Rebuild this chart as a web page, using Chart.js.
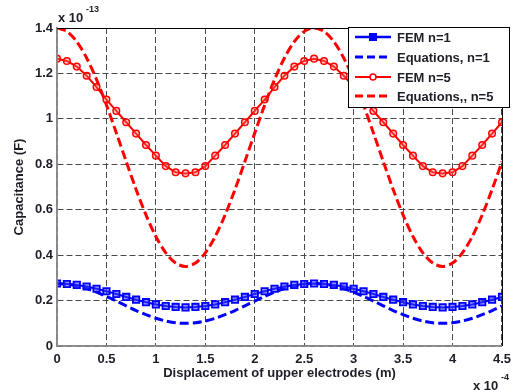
<!DOCTYPE html>
<html>
<head>
<meta charset="utf-8">
<script src="https://cdn.jsdelivr.net/npm/chart.js@4"></script>
<style>
  html, body { margin: 0; padding: 0; background: #fff; }
  #wrap { width: 517px; height: 392px; }
</style>
</head>
<body>
<div id="wrap"><canvas id="chart" width="517" height="392"></canvas></div>
<script>
// displacement, units of 1e-4 m
const xs = [0, 0.1, 0.2, 0.3, 0.4, 0.5, 0.6, 0.7, 0.8, 0.9, 1.0, 1.1, 1.2, 1.3, 1.4, 1.5,
  1.6, 1.7, 1.8, 1.9, 2.0, 2.1, 2.2, 2.3, 2.4, 2.5, 2.6, 2.7, 2.8, 2.9, 3.0, 3.1,
  3.2, 3.3, 3.4, 3.5, 3.6, 3.7, 3.8, 3.9, 4.0, 4.1, 4.2, 4.3, 4.4, 4.5];

// capacitance, units of 1e-13 F
const femN1 = [0.275, 0.273, 0.269, 0.262, 0.252, 0.241, 0.229, 0.216, 0.204, 0.193, 0.183, 0.176,
  0.172, 0.170, 0.172, 0.176, 0.183, 0.193, 0.204, 0.216, 0.229, 0.241, 0.252, 0.262, 0.269, 0.273,
  0.275, 0.273, 0.269, 0.262, 0.252, 0.241, 0.229, 0.216, 0.204, 0.193, 0.183, 0.176, 0.172, 0.170,
  0.172, 0.176, 0.183, 0.193, 0.204, 0.216];
const eqN1 = [0.275, 0.2725, 0.265, 0.253, 0.237, 0.218, 0.198, 0.177, 0.156, 0.138, 0.122, 0.110,
  0.102, 0.100, 0.102, 0.110, 0.122, 0.138, 0.156, 0.177, 0.198, 0.218, 0.237, 0.253, 0.265, 0.2725,
  0.275, 0.2725, 0.265, 0.253, 0.237, 0.218, 0.198, 0.177, 0.156, 0.138, 0.122, 0.110, 0.102, 0.100,
  0.102, 0.110, 0.122, 0.138, 0.156, 0.177];
const femN5 = [1.265, 1.255, 1.23, 1.19, 1.14, 1.085, 1.035, 0.985, 0.935, 0.885, 0.838, 0.792,
  0.765, 0.76, 0.765, 0.792, 0.838, 0.885, 0.935, 0.985, 1.035, 1.085, 1.14, 1.19, 1.23, 1.255,
  1.265, 1.255, 1.23, 1.19, 1.14, 1.085, 1.035, 0.985, 0.935, 0.885, 0.838, 0.792, 0.765, 0.76,
  0.765, 0.792, 0.838, 0.885, 0.935, 0.985];
const eqN5 = [1.4, 1.385, 1.34, 1.268, 1.173, 1.061, 0.938, 0.812, 0.689, 0.577, 0.482, 0.41,
  0.365, 0.35, 0.365, 0.41, 0.482, 0.577, 0.689, 0.812, 0.938, 1.061, 1.173, 1.268, 1.34, 1.385,
  1.4, 1.385, 1.34, 1.268, 1.173, 1.061, 0.938, 0.812, 0.689, 0.577, 0.482, 0.41, 0.365, 0.35,
  0.365, 0.41, 0.482, 0.577, 0.689, 0.812];

const seriesNames = ["FEM n=1", "Equations, n=1", "FEM n=5", "Equations,, n=5"];
const xTicks = [0, 0.5, 1, 1.5, 2, 2.5, 3, 3.5, 4, 4.5];
const yTicks = [0, 0.2, 0.4, 0.6, 0.8, 1, 1.2, 1.4];

const BLUE = "#0000ff";
const RED = "#ff0000";
const TXT = "#1e1e28";
const FONT = "'Liberation Sans', Arial, sans-serif";

const pts = (arr) => xs.map((x, i) => ({ x: x, y: arr[i] }));

// legend box + box edges + exponent labels
const matlabBits = {
  id: "matlabBits",
  afterDatasetsDraw(chart) {
    const ctx = chart.ctx;
    const a = chart.chartArea;
    ctx.save();
    ctx.setLineDash([]);

    // left / bottom edges grey, top / right black
    ctx.strokeStyle = "#8a8a8a";
    ctx.lineWidth = 1.5;
    ctx.beginPath();
    ctx.moveTo(a.left, a.top);
    ctx.lineTo(a.left, a.bottom);
    ctx.lineTo(a.right, a.bottom);
    ctx.stroke();

    ctx.strokeStyle = "#000";
    ctx.lineWidth = 1;
    ctx.beginPath();
    ctx.moveTo(a.left, a.top + 0.5);
    ctx.lineTo(a.right + 0.5, a.top + 0.5);
    ctx.lineTo(a.right + 0.5, a.bottom);
    ctx.stroke();

    // legend
    const lx = 348.5, ly = 27.5, lw = 161, lh = 80;
    ctx.fillStyle = "#fff";
    ctx.fillRect(lx, ly, lw, lh);
    ctx.strokeStyle = "#000";
    ctx.strokeRect(lx, ly, lw, lh);

    const rows = [37, 57, 77, 96];
    const styles = [
      { c: BLUE, dash: [], w: 2.5, mark: "rect" },
      { c: BLUE, dash: [8, 4], w: 3, mark: null },
      { c: RED, dash: [], w: 2, mark: "circle" },
      { c: RED, dash: [8, 4], w: 3, mark: null }
    ];
    rows.forEach((y, i) => {
      const s = styles[i];
      ctx.strokeStyle = s.c;
      ctx.lineWidth = s.w;
      ctx.setLineDash(s.dash);
      ctx.beginPath();
      ctx.moveTo(355, y);
      ctx.lineTo(391, y);
      ctx.stroke();
      ctx.setLineDash([]);
      if (s.mark === "rect") {
        ctx.fillStyle = s.c;
        ctx.fillRect(369, y - 4, 8, 8);
      } else if (s.mark === "circle") {
        ctx.lineWidth = 1.5;
        ctx.fillStyle = "#fff";
        ctx.beginPath();
        ctx.arc(373, y, 3, 0, Math.PI * 2);
        ctx.fill();
        ctx.stroke();
      }
      ctx.fillStyle = TXT;
      ctx.font = "bold 13px " + FONT;
      ctx.textBaseline = "middle";
      ctx.textAlign = "left";
      ctx.fillText(seriesNames[i], 397, y + 1);
    });

    // exponent labels
    ctx.fillStyle = TXT;
    ctx.textBaseline = "alphabetic";
    ctx.font = "bold 13px " + FONT;
    ctx.fillText("x 10", 58, 22);
    ctx.font = "bold 9px " + FONT;
    ctx.fillText("-13", 86, 12);
    ctx.font = "bold 13px " + FONT;
    ctx.fillText("x 10", 473, 390);
    ctx.font = "bold 9px " + FONT;
    ctx.fillText("-4", 501, 380);

    ctx.restore();
  }
};

const gridStyle = {
  color: "#4a4a4a",
  lineWidth: 1,
  drawTicks: false
};
const borderStyle = { color: "#8a8a8a", width: 1.5, dash: [6, 3] };

new Chart(document.getElementById("chart"), {
  type: "line",
  data: {
    datasets: [
      {
        label: seriesNames[0],
        data: pts(femN1),
        borderColor: BLUE,
        borderWidth: 2,
        pointStyle: "rect",
        pointRadius: 4.5,
        pointBorderWidth: 1.8,
        pointBorderColor: BLUE,
        pointBackgroundColor: "rgba(60,60,255,0.55)",
        tension: 0
      },
      {
        label: seriesNames[1],
        data: pts(eqN1),
        borderColor: BLUE,
        borderWidth: 3,
        borderDash: [9, 4],
        pointRadius: 0,
        tension: 0.3
      },
      {
        label: seriesNames[2],
        data: pts(femN5),
        borderColor: RED,
        borderWidth: 2,
        pointStyle: "circle",
        pointRadius: 3.3,
        pointBorderWidth: 1.5,
        pointBorderColor: RED,
        pointBackgroundColor: "rgba(255,120,120,0.35)",
        tension: 0
      },
      {
        label: seriesNames[3],
        data: pts(eqN5),
        borderColor: RED,
        borderWidth: 3,
        borderDash: [9, 4],
        pointRadius: 0,
        tension: 0.3
      }
    ]
  },
  options: {
    responsive: false,
    animation: false,
    events: [],
    layout: { padding: { top: 28, right: 7, left: 0, bottom: 0 } },
    plugins: {
      legend: { display: false },
      tooltip: { enabled: false }
    },
    scales: {
      x: {
        type: "linear",
        min: 0,
        max: 4.5,
        afterBuildTicks: (s) => { s.ticks = xTicks.map((v) => ({ value: v })); },
        afterFit: (s) => { s.height = 46; },
        grid: gridStyle,
        border: borderStyle,
        ticks: {
          color: TXT,
          padding: 6,
          maxRotation: 0,
          font: { family: FONT, size: 13, weight: "bold" },
          callback: (v) => String(parseFloat(v.toFixed(1)))
        },
        title: {
          display: true,
          text: "Displacement of upper electrodes (m)",
          color: TXT,
          font: { family: FONT, size: 13, weight: "bold" },
          padding: { top: 0, bottom: 11 }
        }
      },
      y: {
        min: 0,
        max: 1.4,
        afterBuildTicks: (s) => { s.ticks = yTicks.map((v) => ({ value: v })); },
        afterFit: (s) => { s.width = 57; },
        grid: gridStyle,
        border: borderStyle,
        ticks: {
          color: TXT,
          padding: 4,
          font: { family: FONT, size: 13, weight: "bold" },
          callback: (v) => String(parseFloat(v.toFixed(1)))
        },
        title: {
          display: true,
          text: "Capacitance (F)",
          color: TXT,
          font: { family: FONT, size: 13, weight: "bold" },
          padding: { top: 12, bottom: 0 }
        }
      }
    }
  },
  plugins: [matlabBits]
});
</script>
</body>
</html>
